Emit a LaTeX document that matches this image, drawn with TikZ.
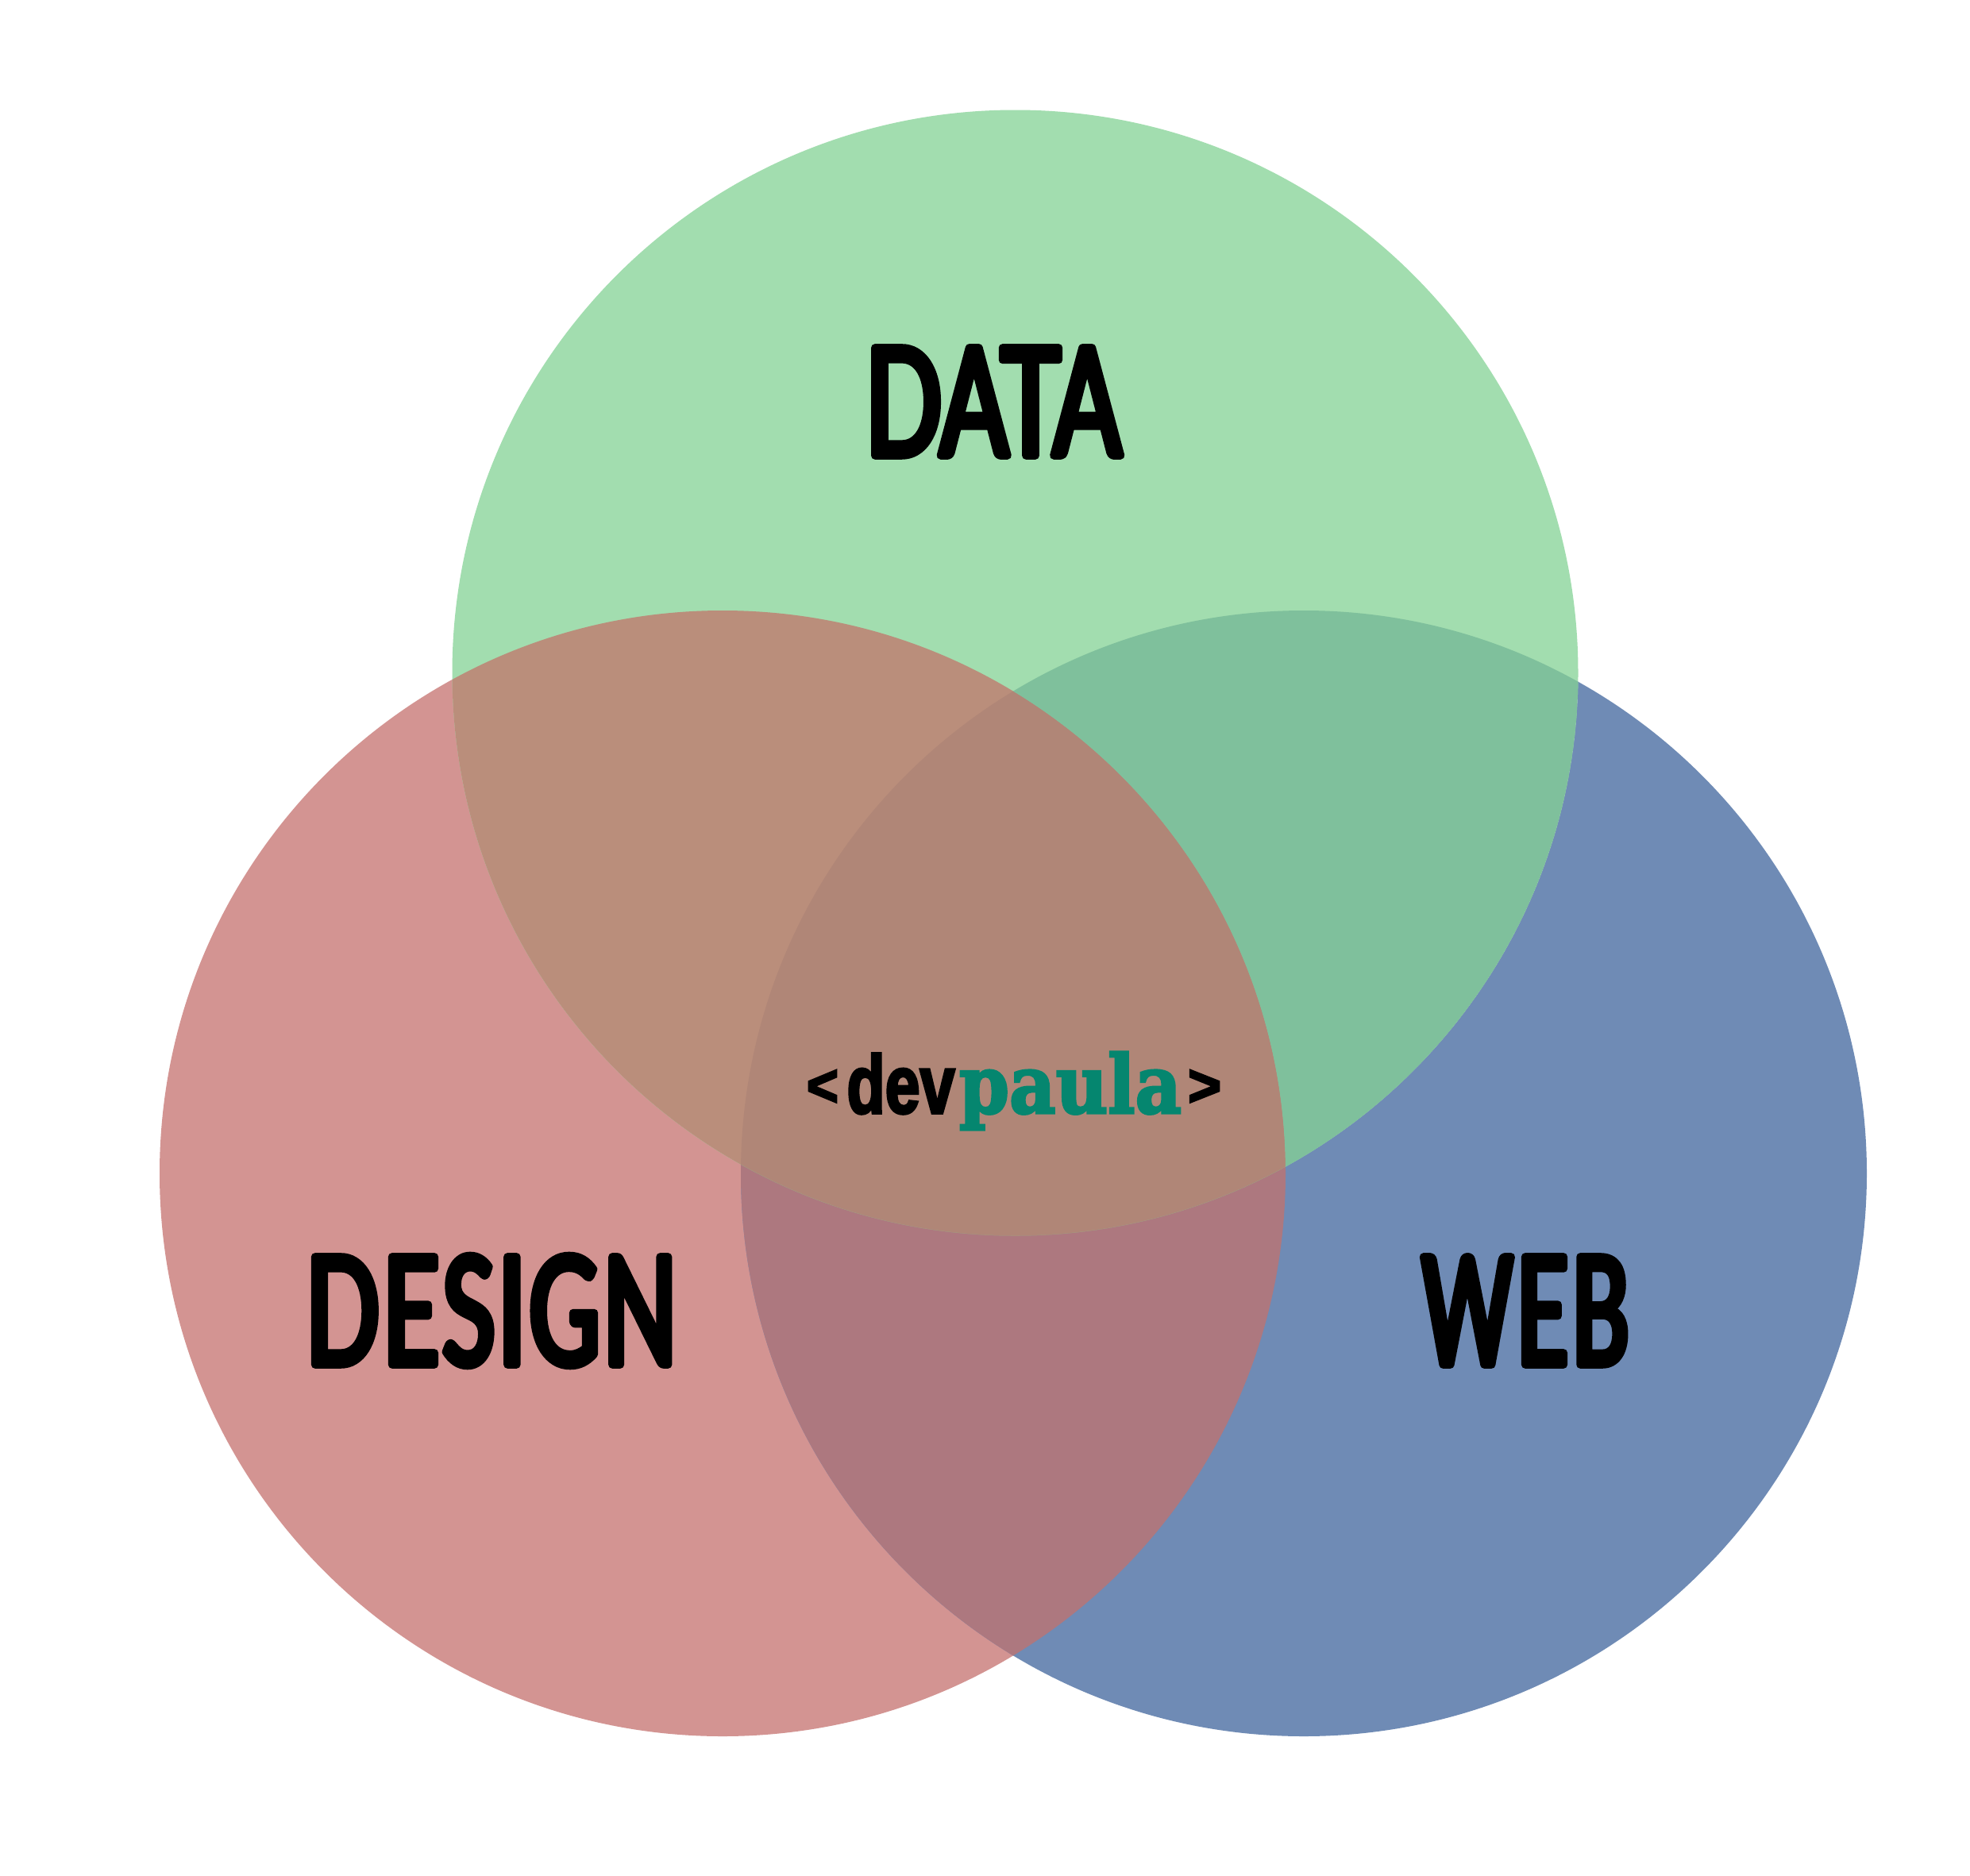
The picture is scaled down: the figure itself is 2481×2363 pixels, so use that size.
\documentclass[tikz,border=0pt]{standalone}
\usepackage{fontspec}
\usepackage{graphicx}
\setmainfont{Lato}
\newfontfamily\labfontA[FakeStretch=0.665,FakeBold=5]{Lato}
\newfontfamily\labfontB[FakeStretch=0.64,FakeBold=5,LetterSpace=2.4]{Lato}
\newfontfamily\labfontC[FakeStretch=0.58,FakeBold=5,LetterSpace=3]{Lato}
\newfontfamily\logosans[FakeBold=3.5]{Liberation Sans Bold}
\newfontfamily\logoserif[FakeBold=3]{DejaVu Serif Bold}
\definecolor{cgreen}{HTML}{A2DDAF}
\definecolor{cred}{HTML}{D39492}
\definecolor{cblue}{HTML}{6F8BB5}
\definecolor{crg}{HTML}{BA8E7B}
\definecolor{cgb}{HTML}{7FC09C}
\definecolor{crb}{HTML}{AD787F}
\definecolor{crgb}{HTML}{B08677}
\definecolor{clogo}{HTML}{05866F}
\newcommand{\fitbox}[3]{\resizebox{#1}{#2}{#3}}
\newcommand{\roundtext}{\special{pdf:code 1 j 1 J}}
\tikzset{
  x=0.01cm,y=-0.01cm,
  lab/.style={inner sep=0pt,outer sep=0pt,black,anchor=base,font=\fontsize{54}{54}\selectfont},
  logo/.style={inner sep=0pt,outer sep=0pt},
  logobase/.style={logo,anchor=base}
}
\begin{document}
\begin{tikzpicture}
\useasboundingbox (0,0) rectangle (2481,2363);
\fill[white] (0,0) rectangle (2481,2363);
\coordinate (G) at (1278.5,847.5);
\coordinate (R) at (910,1478);
\coordinate (B) at (1642,1478);
\def\rad{709*0.01cm}
\fill[cred] (R) circle[radius=\rad];
\fill[cblue] (B) circle[radius=\rad];
\fill[cgreen] (G) circle[radius=\rad];
\begin{scope}
  \clip (R) circle[radius=\rad];
  \fill[crb] (B) circle[radius=\rad];
  \fill[crg] (G) circle[radius=\rad];
  \clip (B) circle[radius=\rad];
  \fill[crgb] (G) circle[radius=\rad];
\end{scope}
\begin{scope}
  \clip (B) circle[radius=\rad];
  \clip (G) circle[radius=\rad];
  \path[fill=cgb,even odd rule] (G) circle[radius=\rad] (R) circle[radius=\rad];
\end{scope}
\node[lab] (data) at (1251,574) {\labfontA\roundtext DATA};
\node[lab] (design) at (619,1719) {\labfontB\roundtext DESIGN};
\node[lab] (web) at (1921,1719) {\labfontC\roundtext WEB};
\node[logo] (lt) at (1036,1370.5) {\fitbox{0.40cm}{0.45cm}{\logosans <}};
\node[logobase] (dev) at (1134.5,1402) {\fitbox{1.36cm}{0.75cm}{\logosans dev}};
\node[logobase,clogo] (paula) at (1348,1402) {\fitbox{2.80cm}{0.77cm}{\logoserif paula}};
\node[logo] (gt) at (1517,1370.5) {\fitbox{0.42cm}{0.45cm}{\logosans >}};
\end{tikzpicture}
\end{document}
